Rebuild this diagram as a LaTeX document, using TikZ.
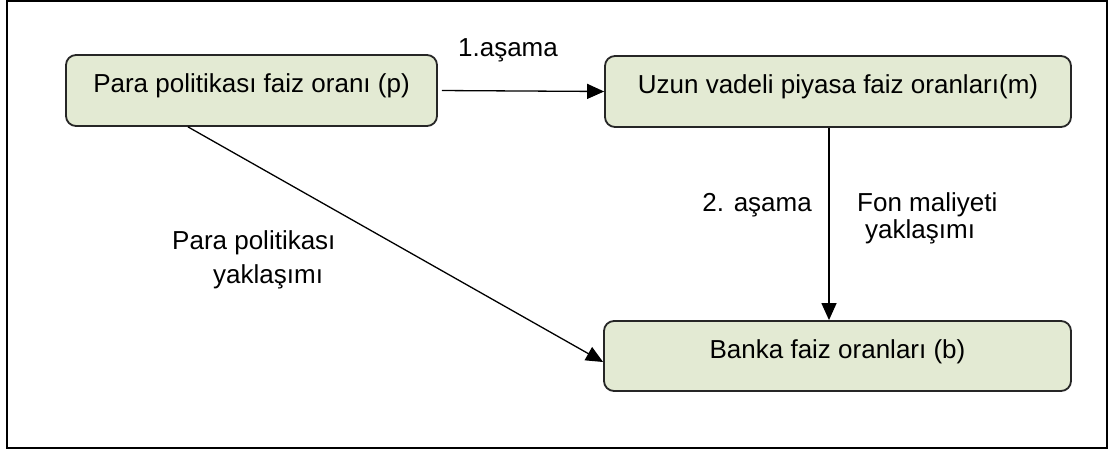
\documentclass[tikz,border=0pt]{standalone}
\usepackage{fontspec}
\setmainfont{Liberation Sans}
\usetikzlibrary{arrows.meta,calc}
\definecolor{boxfill}{HTML}{E3EAD3}
\begin{document}
\begin{tikzpicture}[x=1pt,y=-1pt,
  stage/.style={draw=black!85, line width=1.8pt, fill=boxfill,
    rounded corners=10pt, inner sep=0pt, text height=19pt, text depth=14pt,
    minimum height=71pt, font=\fontsize{26}{31}\selectfont},
  lbl/.style={inner sep=0pt, font=\fontsize{26}{31}\selectfont},
  link/.style={line width=1.3pt, -{Triangle[length=17pt,width=15pt]}}]
\useasboundingbox (0,0) rectangle (1115,454);
% outer frame
\draw[line width=2pt] (7,1.5) rectangle (1107,448);

% stages
\node[stage, minimum width=371pt] (pol) at (251.5,90.5) {Para politikası faiz oranı (p)};
\node[stage, minimum width=466pt] (mkt) at (838,91.5) {Uzun vadeli piyasa faiz oranları(m)};
\node[stage, minimum width=467pt, minimum height=70pt] (bank) at (837.5,356) {Banka faiz oranları (b)};

% connectors
\coordinate (vx) at (829,0);
\coordinate (dx) at (188,0);
\draw[link, shorten <=4pt] (pol.east) -- (mkt.west);
\draw[link] (vx |- mkt.south) -- (vx |- bank.north);
\draw[link] (dx |- pol.south) -- ($(bank.west)+(0,6)$);

% labels
\node[lbl, anchor=base] (l1) at (508,57) {1.aşama};
\node[lbl, anchor=base east] (l2) at (812,212) {2. aşama};
\node[lbl, anchor=base west] (l3a) at (857,212) {Fon maliyeti};
\node[lbl, anchor=base west] (l3b) at (865,239) {yaklaşımı};
\node[lbl, anchor=base west] (l4a) at (172,249) {Para politikası};
\node[lbl, anchor=base west] (l4b) at (213,283) {yaklaşımı};
\end{tikzpicture}
\end{document}
